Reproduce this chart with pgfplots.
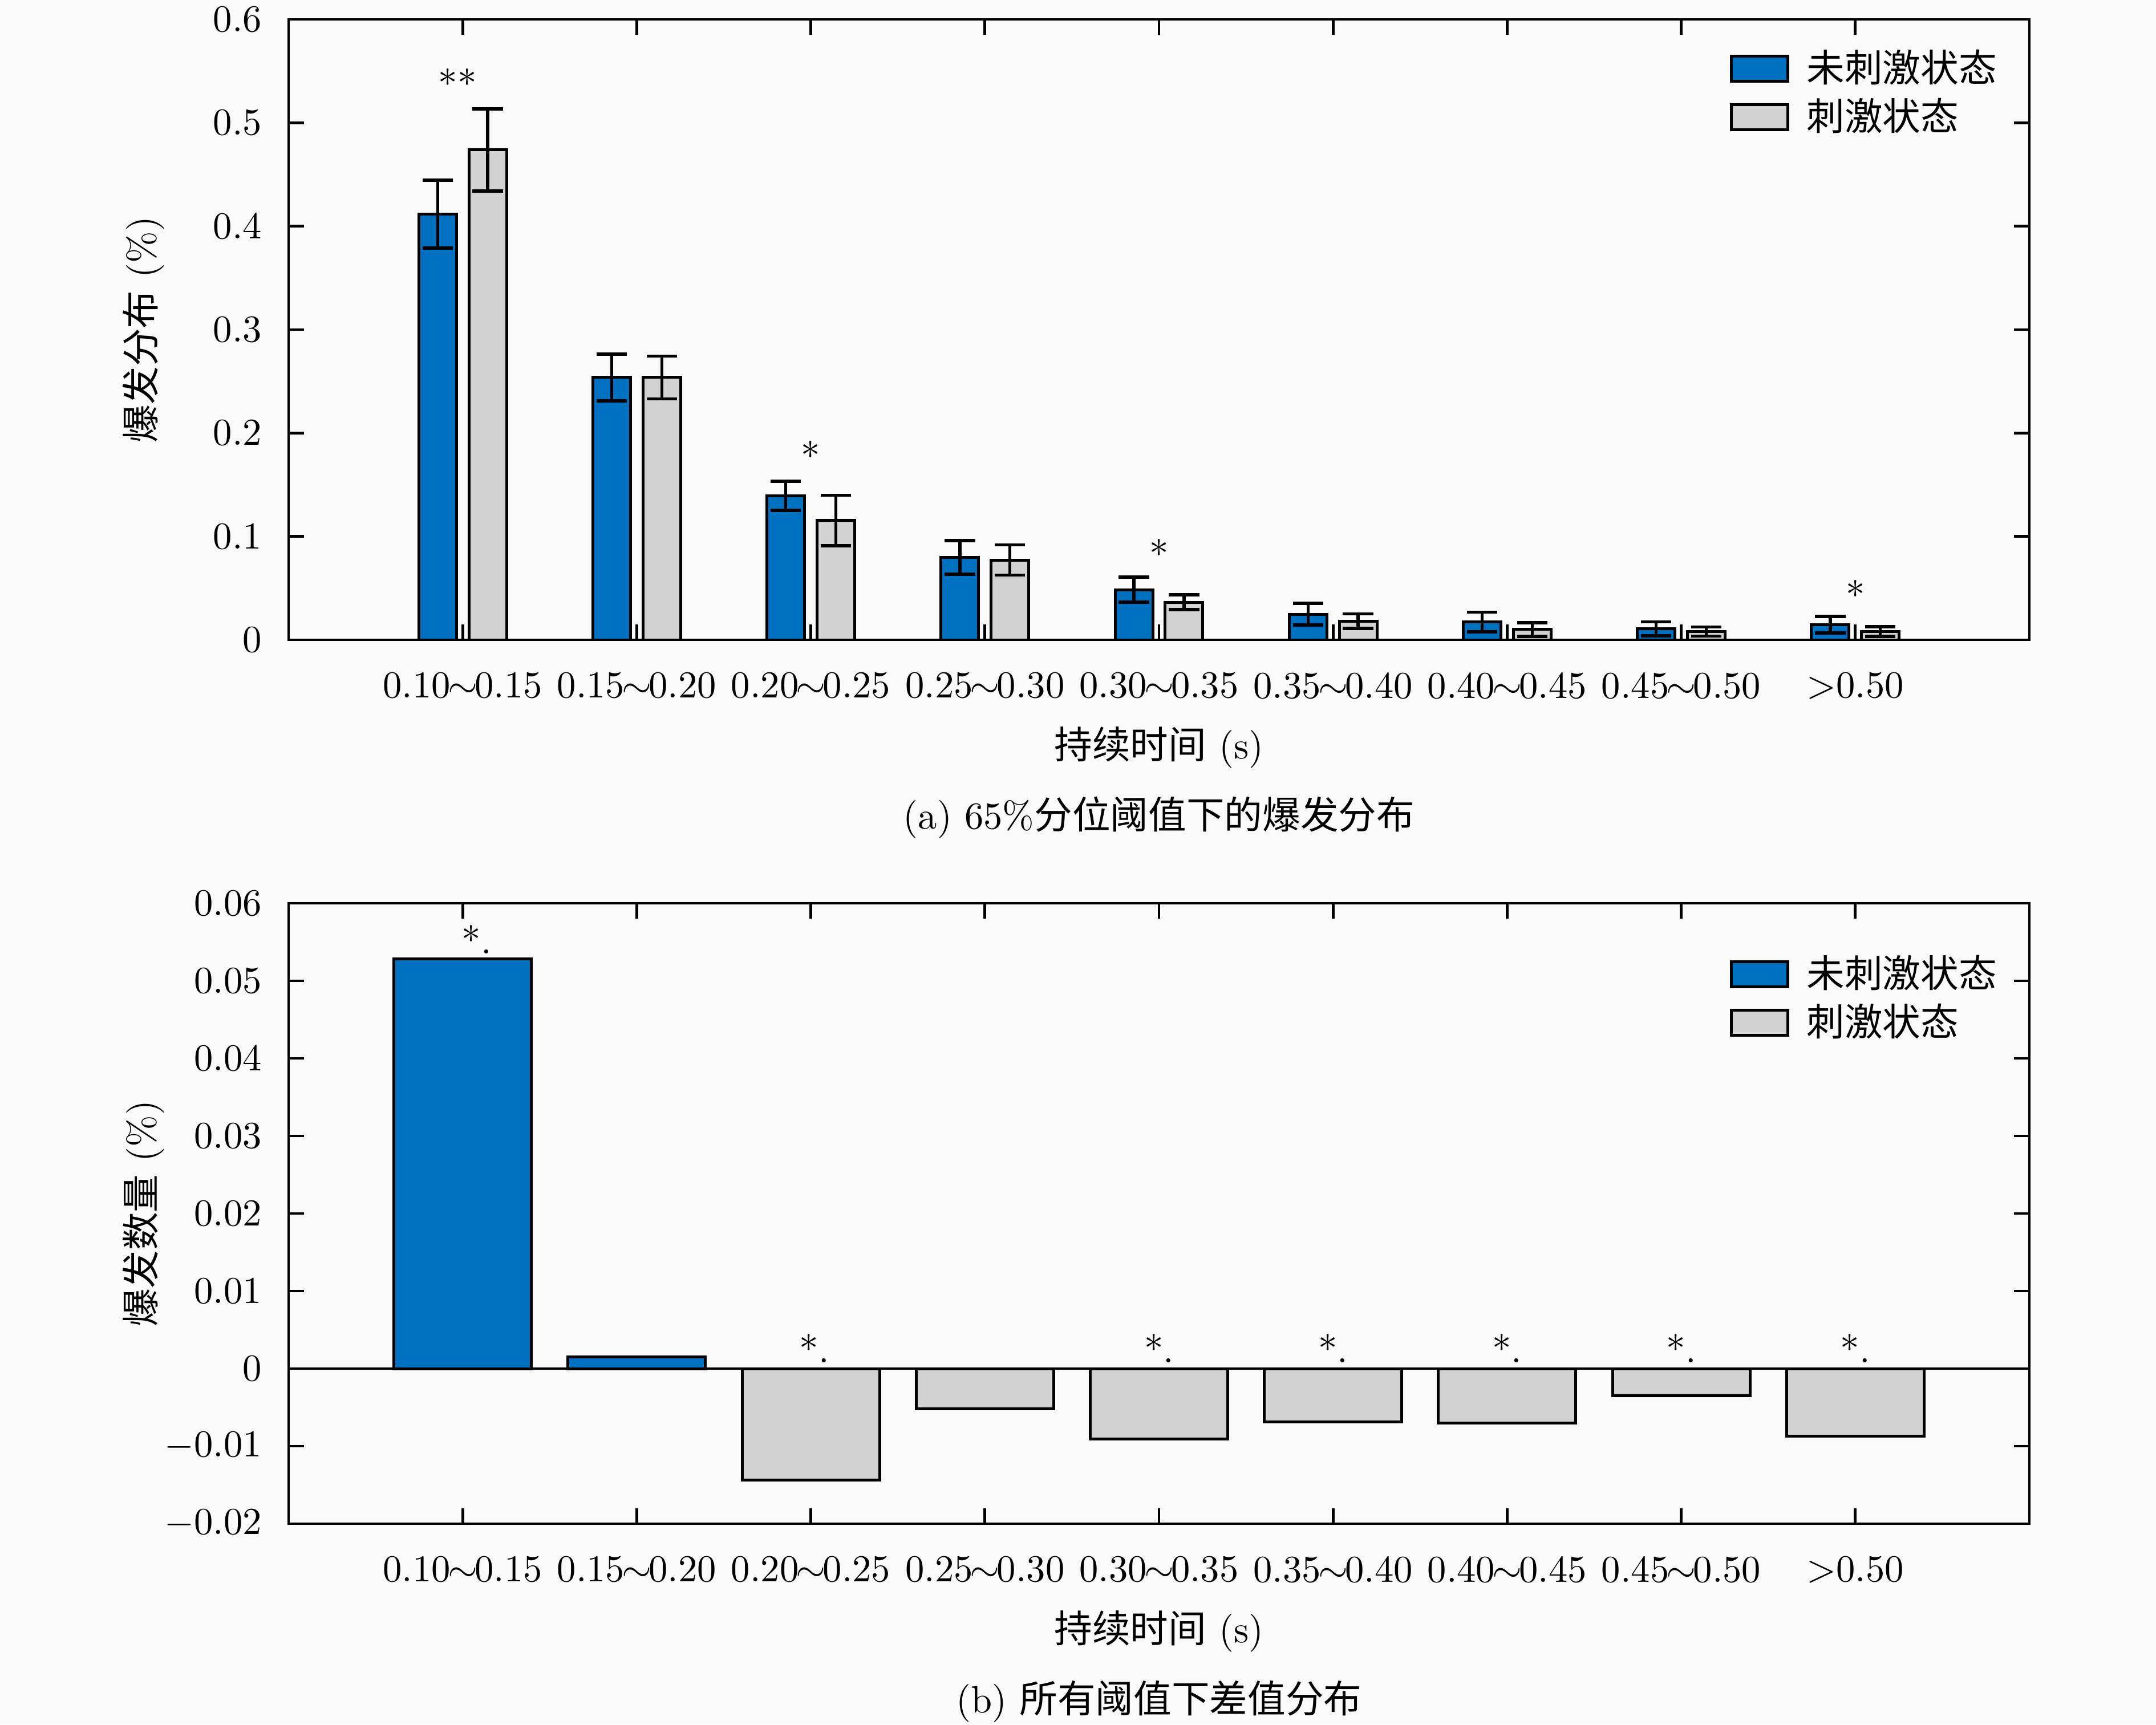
\documentclass[border=0pt]{standalone}
\usepackage{fontspec}
\usepackage{pgfplots}
\usepackage{pgfplotstable}
\pgfplotsset{compat=1.18}
\newfontfamily\cjk{Noto Sans CJK SC}
\definecolor{cblue}{RGB}{0,112,192}
\definecolor{cgray}{RGB}{210,210,210}
\definecolor{bg}{RGB}{249,249,249}
\newcommand{\tl}{$\mkern-1.3mu\sim\mkern-1.3mu$}

% xa, xb: bar centres (category index -/+ 0.144)
\pgfplotstableread{
xa xb a aerr b berr
-0.144 0.144 0.4117 0.0327 0.4738 0.0398
0.856 1.144 0.2537 0.0227 0.2537 0.0206
1.856 2.144 0.1394 0.0141 0.1154 0.0245
2.856 3.144 0.0796 0.0162 0.0772 0.0146
3.856 4.144 0.0485 0.0121 0.0364 0.0073
4.856 5.144 0.0247 0.0105 0.0180 0.0071
5.856 6.144 0.0172 0.0096 0.0100 0.0067
6.856 7.144 0.0106 0.0067 0.0080 0.0044
7.856 8.144 0.0147 0.0079 0.0080 0.0048
}\dataA

\pgfplotstableread{
x d
0 0.0528
1 0.0015
}\dataPos

\pgfplotstableread{
x d
2 -0.0144
3 -0.0052
4 -0.0091
5 -0.0069
6 -0.0070
7 -0.0035
8 -0.0087
}\dataNeg

\pgfplotstableread{
x y m
-0.03 0.5245 **
2 0.1649 *
4 0.0695 *
8 0.0303 *
}\starsA

\pgfplotstableread{
x y m
0.08 0.0535 *.
2.02 0.0008 *.
4 0.0008 *.
5 0.0008 *.
6 0.0008 *.
7 0.0008 *.
8 0.0008 *.
}\starsB

\pgfplotsset{
  myaxis/.style={
    scale only axis, width=457.8pt, height=163.2pt,
    xmin=-1, xmax=9, xtick={0,1,2,3,4,5,6,7,8},
    xticklabels={0.10\tl0.15,0.15\tl0.20,0.20\tl0.25,0.25\tl0.30,0.30\tl0.35,0.35\tl0.40,0.40\tl0.45,0.45\tl0.50,$>$0.50},
    tick align=inside, tick pos=both,
    major tick length=4pt,
    axis line style={line width=0.7pt},
    tick style={line width=0.7pt, black},
    xticklabel style={yshift=-5pt},
    yticklabel style={xshift=-3.5pt, /pgf/number format/fixed, /pgf/number format/precision=2},
    scaled y ticks=false,
    xlabel={{\cjk 持续时间} (s)},
    xlabel style={at={(axis description cs:0.5,-0.1918)}, anchor=base},
    ylabel style={at={(axis description cs:-0.0769,0.5)}, anchor=base},
    legend style={at={(1,1)}, anchor=north east, xshift=-8.4pt, draw=none, fill=none,
      inner sep=0pt, row sep=2.8pt, font=\cjk, nodes={inner sep=0pt},
      /tikz/every odd column/.append style={column sep=4.5pt}},
    legend cell align=left,
    legend image code/.code={\draw[#1,line width=0.75pt] (0pt,-3.3pt) rectangle (14.9pt,3.3pt);},
    error bars/error bar style={line width=0.8pt, black},
    error bars/error mark options={rotate=90, mark size=4pt, line width=0.85pt, black},
  },
  starnodes/.style={only marks, mark=none, forget plot, nodes near coords, point meta=explicit symbolic,
    every node near coord/.append style={anchor=base, inner sep=0pt}},
}

\begin{document}
\begin{tikzpicture}
\useasboundingbox (0,0) rectangle (567pt,453.6pt);
\fill[bg] (0,0) rectangle (567pt,453.6pt);

\begin{axis}[myaxis, at={(75.9pt,285.3pt)}, anchor=south west,
  ymin=0, ymax=0.6, ytick={0,0.1,0.2,0.3,0.4,0.5,0.6},
  ylabel={{\cjk 爆发分布} (\%)},
  legend style={yshift=-7.8pt}]
\addplot[ybar, bar width=0.216, bar shift=0, fill=cblue, draw=black, line width=0.75pt,
  error bars/.cd, y dir=both, y explicit]
  table[x=xa, y=a, y error=aerr] {\dataA};
\addlegendentry{未刺激状态}
\addplot[ybar, bar width=0.216, bar shift=0, fill=cgray, draw=black, line width=0.75pt,
  error bars/.cd, y dir=both, y explicit]
  table[x=xb, y=b, y error=berr] {\dataA};
\addlegendentry{刺激状态}
\addplot[starnodes] table[x=x, y=y, meta=m] {\starsA};
\end{axis}

\begin{axis}[myaxis, at={(75.9pt,52.8pt)}, anchor=south west,
  ymin=-0.02, ymax=0.06, ytick={-0.02,-0.01,0,0.01,0.02,0.03,0.04,0.05,0.06},
  ylabel={{\cjk 爆发数量} (\%)},
  legend style={yshift=-13.5pt}]
\addplot[ybar, bar width=0.79, bar shift=0, fill=cblue, draw=black, line width=0.75pt]
  table[x=x, y=d] {\dataPos};
\addlegendentry{未刺激状态}
\addplot[ybar, bar width=0.79, bar shift=0, fill=cgray, draw=black, line width=0.75pt]
  table[x=x, y=d] {\dataNeg};
\addlegendentry{刺激状态}
\addplot[black, line width=0.7pt, forget plot] coordinates {(-1,0) (9,0)};
\addplot[starnodes] table[x=x, y=y, meta=m] {\starsB};
\end{axis}

\node[anchor=base] at (304.8pt,235.6pt) {(a) 65\%{\cjk 分位阈值下的爆发分布}};
\node[anchor=base] at (304.8pt,3.1pt) {(b) {\cjk 所有阈值下差值分布}};
\end{tikzpicture}
\end{document}
